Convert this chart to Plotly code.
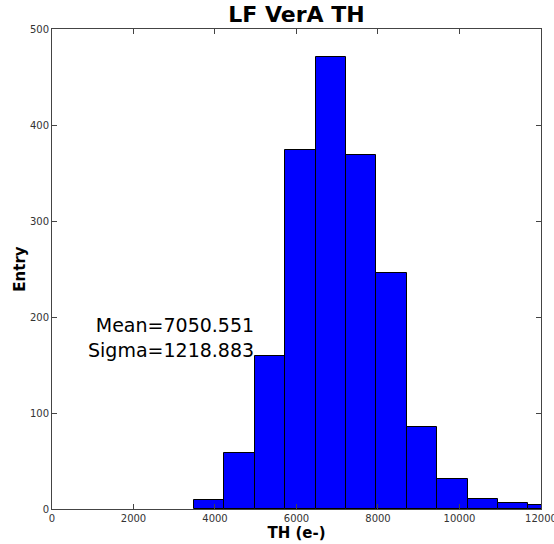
import plotly.graph_objects as go

# Histogram data
bin_start = 3485.0
bin_width = 746.0
counts = [9, 58, 159, 374, 471, 369, 246, 85, 31, 10, 6, 4]
x_ticks = [0, 2000, 4000, 6000, 8000, 10000, 12000]
y_ticks = [0, 100, 200, 300, 400, 500]
mean_val = 7050.551
sigma_val = 1218.883

centers = [bin_start + bin_width * (i + 0.5) for i in range(len(counts))]

fig = go.Figure()
fig.add_trace(go.Bar(
    x=centers, y=counts, width=[bin_width] * len(counts),
    marker=dict(color="#0000ff", line=dict(color="black", width=1)),
    showlegend=False, cliponaxis=True,
))

fig.add_annotation(
    x=5000, y=179, xref="x", yref="y",
    text=f"Mean={mean_val:.3f}<br>Sigma={sigma_val:.3f}",
    showarrow=False, xanchor="right", yanchor="middle", align="right",
    font=dict(family="DejaVu Sans", size=19, color="black"),
)

axis_common = dict(
    showgrid=False, zeroline=False, showline=True, linecolor="#444", linewidth=1,
    mirror="ticks", ticks="inside", ticklen=5, tickcolor="#444", automargin=False,
    ticklabeloverflow="allow",
    tickfont=dict(family="DejaVu Sans", size=10, color="#333"),
)

fig.update_layout(
    width=554, height=544,
    margin=dict(l=52, r=13, t=29, b=35),
    paper_bgcolor="white", plot_bgcolor="white",
    title=dict(text="<b>LF VerA TH</b>", x=(52 + 541) / 2 / 554, xanchor="center",
               y=1 - 14 / 544, yanchor="middle",
               font=dict(family="DejaVu Sans", size=22, color="black")),
    xaxis=dict(range=[0, 12000.5], tickvals=x_ticks, ticktext=[str(v) for v in x_ticks],
               title=dict(text="<b>TH (e-)</b>", font=dict(family="DejaVu Sans", size=15, color="black"), standoff=2),
               **axis_common),
    yaxis=dict(range=[0, 500.05], tickvals=y_ticks, ticktext=[str(v) for v in y_ticks],
               title=dict(text="<b>Entry</b>", font=dict(family="DejaVu Sans", size=15, color="black"), standoff=0),
               **axis_common),
    bargap=0,
)

fig.write_html("out.html")
